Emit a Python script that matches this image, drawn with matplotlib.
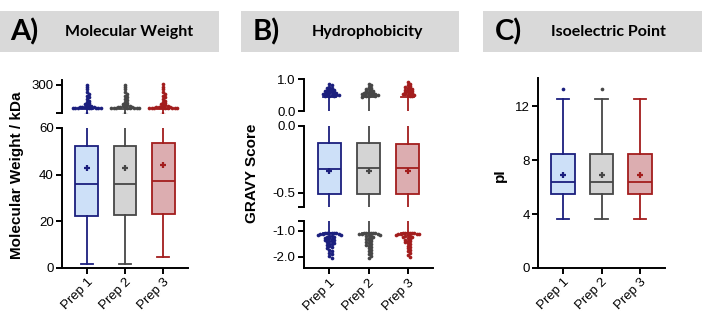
import numpy as np
import matplotlib.pyplot as plt
from matplotlib.patches import Rectangle

W, H = 703, 328

preps = ['Prep 1', 'Prep 2', 'Prep 3']
edge_colors = ['#1b1f7e', '#474747', '#a31d1d']
fill_colors = ['#cde0f8', '#d4d4d4', '#dcadb0']

# Molecular weight (kDa)
mw_lo = [1.9, 1.9, 4.8]
mw_q1 = [22.5, 22.7, 23.2]
mw_med = [36.0, 36.0, 37.3]
mw_q3 = [52.4, 52.4, 53.6]
mw_hi = [98, 98, 98]
mw_mean = [43.0, 43.0, 44.3]
mw_out = [
    [99, 100, 101, 102, 103, 104, 105, 106, 107, 108, 110, 112, 115, 119, 124, 130, 137,
     145, 155, 166, 178, 192, 207, 223, 241, 260, 280, 300],
    [99, 100, 101, 102, 103, 104, 105, 106, 107, 109, 111, 113, 116, 120, 125, 131, 138,
     146, 156, 167, 179, 193, 208, 224, 242, 261, 281, 301],
    [99, 100, 101, 102, 103, 104, 105, 106, 107, 108, 110, 112, 115, 119, 124, 130, 137,
     145, 155, 166, 178, 192, 207, 223, 241, 260, 281, 302],
]

# GRAVY score
gr_lo = [-1.08, -1.08, -1.08]
gr_q1 = [-0.51, -0.51, -0.51]
gr_med = [-0.325, -0.315, -0.318]
gr_q3 = [-0.13, -0.13, -0.135]
gr_hi = [0.45, 0.45, 0.45]
gr_mean = [-0.338, -0.335, -0.34]
gr_out = [
    [0.46, 0.47, 0.48, 0.49, 0.5, 0.5, 0.51, 0.52, 0.53, 0.54, 0.55, 0.56, 0.57, 0.58, 0.6,
     0.61, 0.62, 0.64, 0.65, 0.67, 0.69, 0.71, 0.73, 0.76, 0.8, 0.84,
     -1.08, -1.08, -1.08, -1.09, -1.09, -1.09, -1.1, -1.1, -1.1,
     -1.14, -1.16, -1.18, -1.2, -1.22, -1.24, -1.26, -1.28, -1.3, -1.32, -1.34, -1.36, -1.38,
     -1.4, -1.43, -1.46, -1.49, -1.52, -1.56, -1.6, -1.64, -1.68, -1.73, -1.78, -1.84,
     -1.9, -1.97, -2.05],
    [0.45, 0.46, 0.47, 0.48, 0.49, 0.5, 0.5, 0.51, 0.52, 0.53, 0.54, 0.55, 0.56, 0.57, 0.58,
     0.6, 0.62, 0.64, 0.66, 0.68, 0.7, 0.73, 0.76, 0.8, 0.85,
     -1.08, -1.08, -1.08, -1.09, -1.09, -1.09, -1.1, -1.1, -1.1,
     -1.15, -1.17, -1.19, -1.21, -1.24, -1.27, -1.3, -1.33, -1.36, -1.39, -1.42, -1.46,
     -1.5, -1.54, -1.58, -1.62, -1.67, -1.72, -1.78, -1.84, -1.9, -1.97, -2.05],
    [0.46, 0.48, 0.5, 0.51, 0.52, 0.54, 0.55, 0.56, 0.58, 0.6, 0.62, 0.63, 0.65, 0.67, 0.69,
     0.71, 0.73, 0.75, 0.78, 0.81, 0.85, 0.9,
     -1.08, -1.08, -1.08, -1.09, -1.09, -1.09, -1.1, -1.1, -1.1,
     -1.13, -1.15, -1.17, -1.19, -1.21, -1.23, -1.25, -1.28, -1.31, -1.34, -1.37, -1.4,
     -1.44, -1.48, -1.52, -1.57, -1.62, -1.67, -1.73, -1.79, -1.86, -1.94, -2.02],
]

# Isoelectric point
pi_lo = [3.6, 3.6, 3.6]
pi_q1 = [5.5, 5.5, 5.5]
pi_med = [6.35, 6.35, 6.35]
pi_q3 = [8.45, 8.45, 8.45]
pi_hi = [12.55, 12.55, 12.55]
pi_mean = [6.9, 6.9, 6.9]
pi_out = [[13.3], [13.3], []]

plt.rcParams['font.family'] = ['Liberation Sans', 'DejaVu Sans']
fig = plt.figure(figsize=(W / 100, H / 100), dpi=100)


def px_axes(x0, y0, x1, y1):
    # axes from pixel box (top-left origin)
    return fig.add_axes([x0 / W, 1 - y1 / H, (x1 - x0) / W, (y1 - y0) / H])


def swarm(ax, x0, vals, color, d=2.3):
    tr = ax.transData
    ppu = tr.transform((1, 0))[0] - tr.transform((0, 0))[0]
    placed = []
    xs, ys = [], []
    for v in sorted(vals, reverse=True):
        py = tr.transform((x0, v))[1]
        k = 0
        while True:
            offs = [0.0] if k == 0 else [k * d, -k * d]
            ok = None
            for o in offs:
                if all((o - a) ** 2 + (py - b) ** 2 >= (0.95 * d) ** 2 for a, b in placed):
                    ok = o
                    break
            if ok is not None:
                break
            k += 1
        placed.append((ok, py))
        xs.append(x0 + ok / ppu)
        ys.append(v)
    ax.scatter(xs, ys, s=7, color=color, linewidths=0, zorder=4)


def draw(ax, lo, q1, med, q3, hi, mean, out, ylim):
    ax.set_xlim(0.35, 3.65)
    ax.set_ylim(*ylim)
    for i in range(3):
        st = dict(whislo=lo[i], q1=q1[i], med=med[i], q3=q3[i], whishi=hi[i], fliers=[])
        c = edge_colors[i]
        ax.bxp([st], positions=[i + 1], widths=0.6, patch_artist=True, showfliers=False,
               boxprops=dict(facecolor=fill_colors[i], edgecolor=c, linewidth=1.3),
               medianprops=dict(color=c, linewidth=1.3),
               whiskerprops=dict(color=c, linewidth=1.3),
               capprops=dict(color=c, linewidth=1.3), capwidths=0.33,
               manage_ticks=False)
        ax.plot([i + 1], [mean[i]], marker='+', color=c, ms=5, mew=1.6, zorder=5)
        if out[i]:
            swarm(ax, i + 1, out[i], c)


def style(ax, bottom):
    for s in ['top', 'right']:
        ax.spines[s].set_visible(False)
    ax.spines['left'].set_linewidth(1.4)
    ax.spines['bottom'].set_linewidth(1.4)
    ax.tick_params(axis='y', length=4, width=1.4, labelsize=9.5, pad=2)
    ax.patch.set_alpha(0)
    if bottom:
        ax.set_xticks([1, 2, 3])
        ax.set_xticklabels(preps, rotation=45, ha='right', rotation_mode='anchor')
        ax.tick_params(axis='x', length=4, width=1.4, labelsize=9.5, pad=2)
    else:
        ax.spines['bottom'].set_visible(False)
        ax.set_xticks([])


# Panel A
a_top = px_axes(62, 80, 188, 113)
a_bot = px_axes(62, 128, 188, 268)
draw(a_top, mw_lo, mw_q1, mw_med, mw_q3, mw_hi, mw_mean, mw_out, (60, 340))
draw(a_bot, mw_lo, mw_q1, mw_med, mw_q3, mw_hi, mw_mean, mw_out, (0, 60))
style(a_top, False)
style(a_bot, True)
a_top.set_yticks([60, 300])
a_top.set_yticklabels(['', '300'])
a_bot.set_yticks([0, 20, 40, 60])

# Panel B
b_top = px_axes(304, 79, 433, 111)
b_mid = px_axes(304, 126, 433, 206.7)
b_bot = px_axes(304, 220.7, 433, 268.3)
draw(b_top, gr_lo, gr_q1, gr_med, gr_q3, gr_hi, gr_mean, gr_out, (0, 1))
draw(b_mid, gr_lo, gr_q1, gr_med, gr_q3, gr_hi, gr_mean, gr_out, (-0.605, 0))
draw(b_bot, gr_lo, gr_q1, gr_med, gr_q3, gr_hi, gr_mean, gr_out, (-2.45, -0.6))
style(b_top, False)
style(b_mid, False)
style(b_bot, True)
b_top.set_yticks([0, 1])
b_top.set_yticklabels(['0.0', '1.0'])
b_mid.set_yticks([-0.605, -0.5, 0])
b_mid.set_yticklabels(['', '-0.5', '0.0'])
b_bot.set_yticks([-2, -1, -0.6])
b_bot.set_yticklabels(['-2.0', '-1.0', ''])

# Panel C
c_ax = px_axes(538, 78, 665, 268)
draw(c_ax, pi_lo, pi_q1, pi_med, pi_q3, pi_hi, pi_mean, pi_out, (0, 14.1))
style(c_ax, True)
c_ax.set_yticks([0, 4, 8, 12])

# y labels
fig.text(17 / W, 1 - 175 / H, 'Molecular Weight / kDa', rotation=90, ha='center', va='center',
         fontsize=11, fontweight='bold')
fig.text(252 / W, 1 - 173 / H, 'GRAVY Score', rotation=90, ha='center', va='center',
         fontsize=11, fontweight='bold')
fig.text(500 / W, 1 - 175 / H, 'pI', rotation=90, ha='center', va='center',
         fontsize=11, fontweight='bold')

# headers
headers = [(0, 219, 10, 65, 'A)', 'Molecular Weight'),
           (241, 459, 253, 312, 'B)', 'Hydrophobicity'),
           (483, 702, 495, 551, 'C)', 'Isoelectric Point')]
for x0, x1, lx, tx, letter, title in headers:
    fig.patches.append(Rectangle((x0 / W, 1 - 52 / H), (x1 - x0) / W, 41 / H,
                                 transform=fig.transFigure, facecolor='#d9d9d9',
                                 edgecolor='none', zorder=0))
    fig.text(lx / W, 1 - 32 / H, letter, ha='left', va='center', fontsize=21,
             fontweight='bold', family=['Lato', 'DejaVu Sans'])
    fig.text(tx / W, 1 - 32 / H, title, ha='left', va='center', fontsize=11.5,
             fontweight='bold', family=['Lato', 'DejaVu Sans'])

fig.savefig('out.png', dpi=100)
